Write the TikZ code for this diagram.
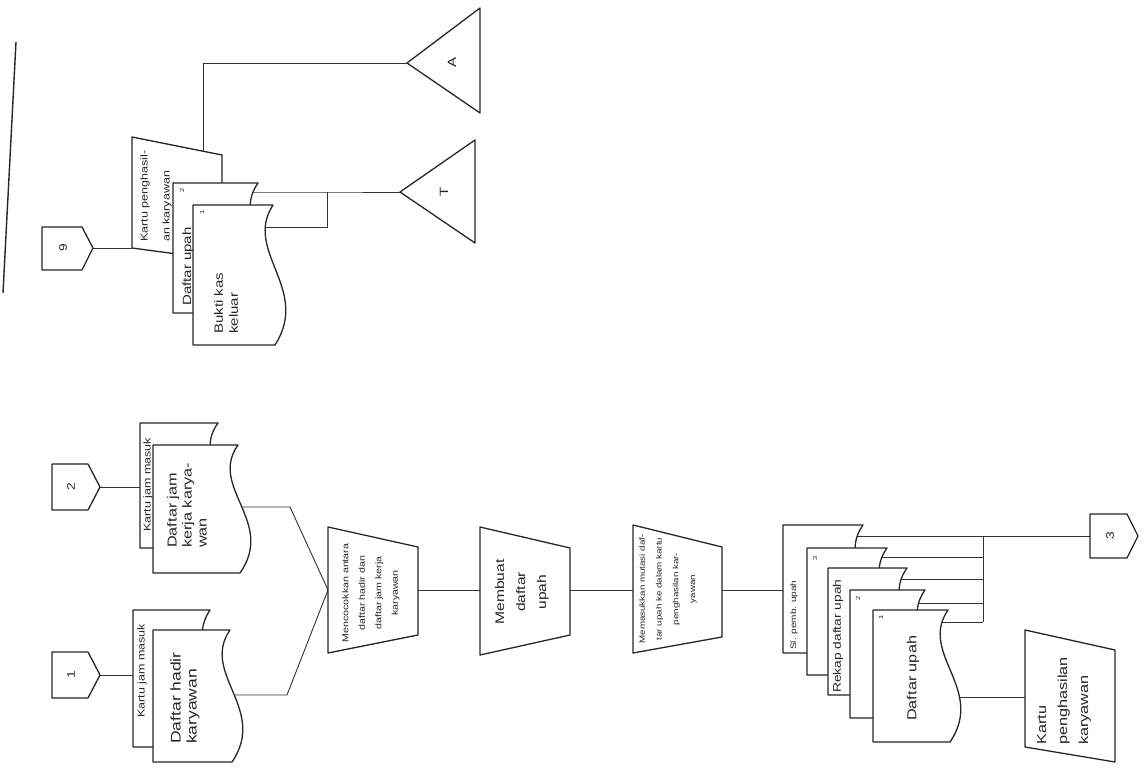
\documentclass[tikz,border=0pt]{standalone}
\usepackage{fontspec}
\setmainfont{Liberation Sans}[FakeStretch=1.25]
\usetikzlibrary{calc}
\newcommand{\rdoc}[4]{%
  \pgfmathsetmacro{\dH}{#4-#2}%
  \pgfmathsetmacro{\cA}{#2+0.33*\dH}%
  \pgfmathsetmacro{\cB}{#2+0.6*\dH}%
  \path[shp] (#1,#2) -- (#3,#2) .. controls ({#3-30},\cA) and ({#3+38},\cB) .. ({#3+2},#4) -- (#1,#4) -- cycle;}
\newcommand{\fs}[2]{\fontsize{#1}{#2}\selectfont}
\begin{document}
\begin{tikzpicture}[x=1pt,y=-1pt,
  shp/.style={draw=black!85, line width=1.3pt, fill=white, line join=round},
  con/.style={draw=black!80, line width=0.9pt},
  lbl/.style={rotate=90, inner sep=0pt, text=black!85},
  bl/.style={lbl, anchor=west, align=left}]
\useasboundingbox (0,0) rectangle (1144,775);

% ---------- coordinates ----------
\coordinate (sepA) at (16,42); \coordinate (sepB) at (3,293);
\coordinate (k1) at (100,675); \coordinate (g1b) at (140,675);
\coordinate (k2) at (100,487); \coordinate (g2b) at (145,487);
\coordinate (g2o) at (235,507); \coordinate (g2j) at (290,507);
\coordinate (g1o) at (230,695); \coordinate (g1j) at (287,695);
\coordinate (p1in) at (328,590); \coordinate (p1out) at (418,590);
\coordinate (p2in) at (480,590); \coordinate (p2out) at (570,590);
\coordinate (p3in) at (633,590); \coordinate (p3out) at (722,590);
\coordinate (sin) at (783,590);
\coordinate (da) at (850,536); \coordinate (db) at (870,557);
\coordinate (dc) at (890,579); \coordinate (dd) at (910,603);
\coordinate (de) at (935,622);
\coordinate (va) at (983,536); \coordinate (vb) at (983,557);
\coordinate (vc) at (983,579); \coordinate (vd) at (983,603);
\coordinate (ve) at (983,622);
\coordinate (k3) at (1090,536);
\coordinate (deo) at (950,697); \coordinate (cardin) at (1025,697);
\coordinate (k9) at (93,248); \coordinate (cAin) at (132,248);
\coordinate (cAt) at (203,160); \coordinate (cAup) at (203,63);
\coordinate (tA) at (407,63);
\coordinate (dBo) at (250,192); \coordinate (tj) at (327,192);
\coordinate (tT) at (400,192);
\coordinate (dCo) at (265,227); \coordinate (tjb) at (327,227);

% ---------- connectors ----------
\draw[line width=1.4pt, black!85] (sepA) -- (sepB);
\draw[con] (k1) -- (g1b);
\draw[con] (k2) -- (g2b);
\draw[con] (g2o) -- (g2j) -- (p1in);
\draw[con] (g1o) -- (g1j) -- (p1in);
\draw[con] (p1out) -- (p2in);
\draw[con] (p2out) -- (p3in);
\draw[con] (p3out) -- (sin);
\draw[con] (da) -- (k3);
\draw[con] (db) -- (vb);
\draw[con] (dc) -- (vc);
\draw[con] (dd) -- (vd);
\draw[con] (de) -- (ve);
\draw[con] (va) -- (ve);
\draw[con] (deo) -- (cardin);
\draw[con] (k9) -- (cAin);
\draw[con] (cAt) -- (cAup) -- (tA);
\draw[con] (dBo) -- (tj) -- (tT);
\draw[con] (dCo) -- (tjb) -- (tj);

% ---------- off-page connectors ----------
\path[shp] (52,652) -- (88,652) -- (100,675) -- (88,698) -- (52,698) -- cycle;
\node[lbl, font=\fs{11}{13}] (n1) at (71,675) {1};
\path[shp] (52,464) -- (88,464) -- (100,487) -- (88,510) -- (52,510) -- cycle;
\node[lbl, font=\fs{11}{13}] (n2) at (71,487) {2};
\path[shp] (42,227) -- (82,227) -- (93,248) -- (82,270) -- (42,270) -- cycle;
\node[lbl, font=\fs{11}{13}] (n9) at (63,248) {9};
\path[shp] (1090,514) -- (1127,514) -- (1138,536) -- (1127,558) -- (1090,558) -- cycle;
\node[lbl, font=\fs{11}{13}] (n3) at (1110,536) {3};

% ---------- input documents ----------
\rdoc{140}{423}{218}{548}
\node[bl, font=\fs{10}{12}] (t2b) at (148,532) {Kartu jam masuk};
\rdoc{153}{445}{238}{573}
\node[bl, font=\fs{13}{15}] (t2f) at (187,548) {Daftar jam\\kerja karya-\\wan};
\rdoc{133}{610}{210}{747}
\node[bl, font=\fs{10}{12}] (t1b) at (142,718) {Kartu jam masuk};
\rdoc{153}{630}{230}{762}
\node[bl, font=\fs{14}{16}] (t1f) at (185,744) {Daftar hadir\\karyawan};

% ---------- processes ----------
\path[shp] (328,527) -- (418,547) -- (418,635) -- (328,653) -- cycle;
\node[lbl, align=center, font=\fs{8.5}{16.5}] (tp1) at (371,593) {Mencocokkan antara\\daftar hadir dan\\daftar jam kerja\\karyawan};
\path[shp] (480,527) -- (570,548) -- (570,635) -- (480,655) -- cycle;
\node[lbl, align=center, font=\fs{12.5}{21}] (tp2) at (522,592) {Membuat\\daftar\\upah};
\path[shp] (633,525) -- (722,547) -- (722,637) -- (633,653) -- cycle;
\node[lbl, align=center, font=\fs{7.8}{16.7}] (tp3) at (668,589) {Memasukkan mutasi daf-\\tar upah ke dalam kartu\\penghasilan kar-\\yawan};

% ---------- output document stack ----------
\rdoc{783}{525}{863}{653}
\node[bl, font=\fs{8}{10}] (ta) at (794,650) {Sl. pemb. upah};
\rdoc{807}{548}{887}{675}
\node[lbl, font=\fs{6}{7}] (lb) at (815,558) {3};
\rdoc{828}{568}{907}{695}
\node[bl, font=\fs{11}{13}] (tc) at (838,693) {Rekap daftar upah};
\rdoc{850}{590}{925}{718}
\node[lbl, font=\fs{6}{7}] (ld) at (858,598) {2};
\rdoc{873}{610}{948}{742}
\node[lbl, font=\fs{6}{7}] (le) at (881,617) {1};
\node[bl, font=\fs{13}{15}] (te) at (913,721) {Daftar upah};

% ---------- card ----------
\path[shp] (1025,630) -- (1115,650) -- (1115,762) -- (1025,747) -- cycle;
\node[bl, font=\fs{13}{21}] (tcard) at (1064,745) {Kartu\\penghasilan\\karyawan};

% ---------- top part ----------
\path[shp] (132,137) -- (222,155) -- (222,260) -- (132,248) -- cycle;
\node[bl, font=\fs{10}{22}] (tA1) at (156,242) {Kartu penghasil-\\an karyawan};
\rdoc{173}{183}{258}{313}
\node[lbl, font=\fs{6}{7}] (lB) at (182,190) {2};
\node[bl, font=\fs{12}{14}] (tB) at (188,306) {Daftar upah};
\rdoc{193}{205}{273}{345}
\node[lbl, font=\fs{6}{7}] (lC) at (202,212) {1};
\node[bl, font=\fs{12}{15}] (tC) at (226,334) {Bukti kas\\keluar};

% ---------- files ----------
\path[shp] (407,63) -- (480,8) -- (480,113) -- cycle;
\node[lbl, font=\fs{12}{14}] (fA) at (452,63) {A};
\path[shp] (400,192) -- (475,140) -- (475,243) -- cycle;
\node[lbl, font=\fs{12}{14}] (fT) at (444,192) {T};
\end{tikzpicture}
\end{document}
